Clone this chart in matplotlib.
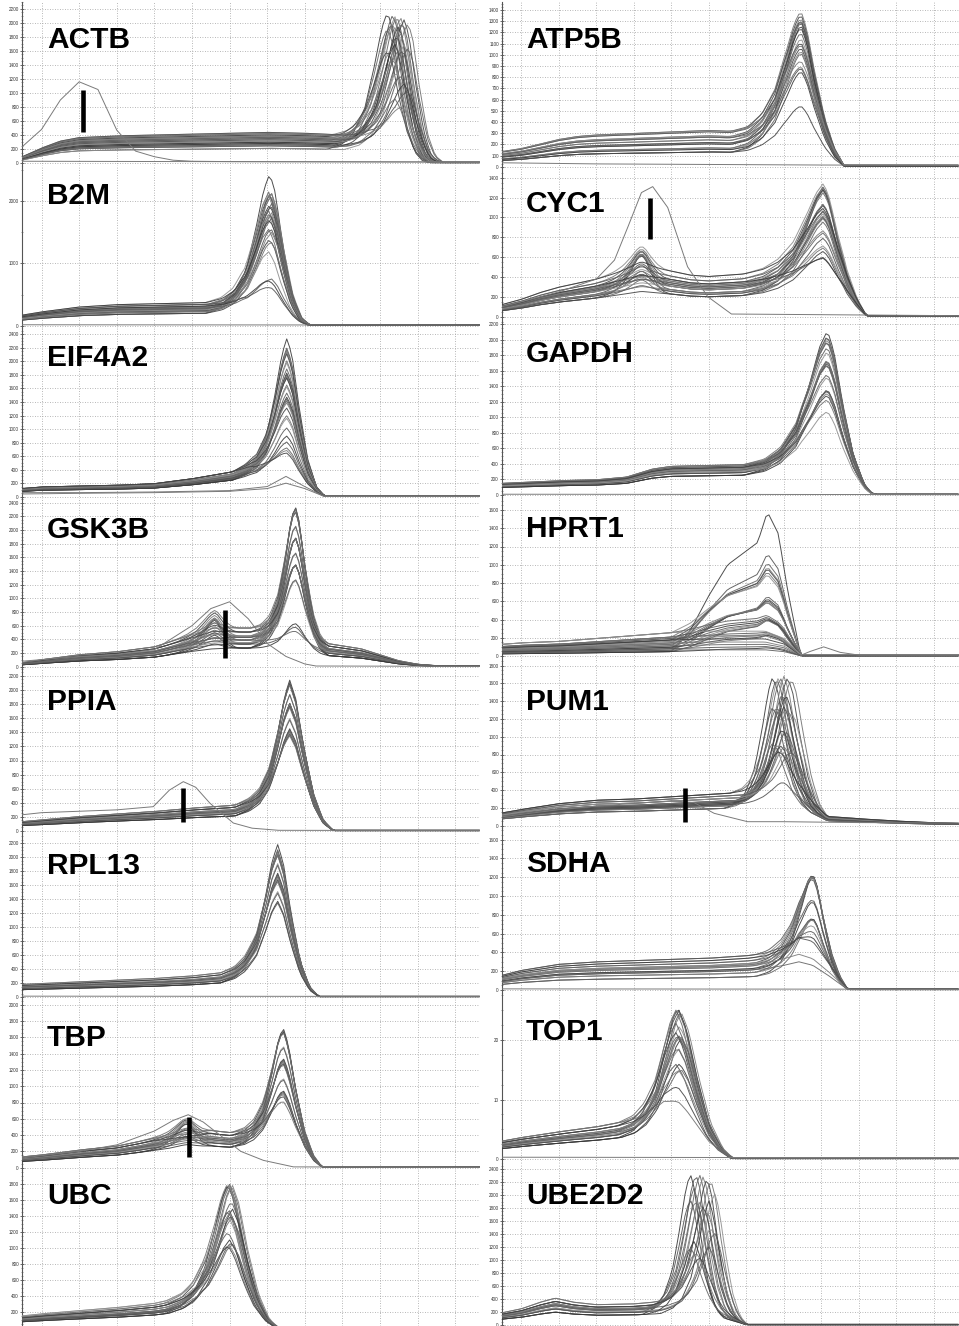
import numpy as np
import matplotlib
matplotlib.use("Agg")
import matplotlib.pyplot as plt
from matplotlib.ticker import MultipleLocator, AutoMinorLocator

plt.rcParams['font.family'] = ['Liberation Sans', 'DejaVu Sans']

# ---------------- data (x in grid units of the melt axis) ----------------
PEAK_DX = [-1.6, -1.2, -0.9, -0.6, -0.35, -0.15, 0, 0.15, 0.35, 0.6, 0.85, 1.1]
PEAK_Y = [0, 0.04, 0.12, 0.3, 0.6, 0.88, 1, 0.88, 0.55, 0.22, 0.05, 0]

ACTB_BU = [-0.52, 0.0, 0.5, 1.0, 2.0, 3.0, 4.0, 5.0, 6.0, 7.0, 8.0, 8.7, 9.3, 9.8, 10.3, 11.7]
ACTB_BV = [70, 170, 250, 290, 310, 320, 330, 340, 350, 340, 320, 320, 260, 130, 8, 8]
ACTB_AMPS = [2000, 1950, 1920, 1900, 1880, 1850, 1820, 1800, 1780, 1750, 1720, 1700, 1680, 1650,
             1600, 1550, 1500, 1450, 1400, 1350, 1300, 1200, 1100, 1050, 1000, 850, 750, 600]
ACTB_LEVELS = [0.6, 0.75, 0.85, 0.95, 1.05, 1.1, 1.15, 1.2, 0.9, 1.0, 0.8, 1.25, 0.7, 1.1]
ACTB_SHIFTS = [-0.25, -0.1, 0.0, 0.1, 0.2, 0.3, -0.05, 0.15, 0.05, -0.15]
ACTB_OUT_U = [-0.52, 0.0, 0.5, 1.0, 1.5, 2.0, 2.5, 3.0, 3.5, 4.0, 5.0, 11.7]
ACTB_OUT_V = [230, 480, 900, 1160, 1050, 470, 170, 90, 40, 25, 20, 15]
ACTB_MARK = (1.11, 447, 1043)

ATP5B_BU = [-0.52, 0, 0.5, 1, 1.5, 2, 3, 4, 5, 5.5, 6, 6.5, 7, 7.45, 8, 8.6, 11.7]
ATP5B_BV = [100, 120, 150, 180, 200, 210, 220, 230, 240, 235, 240, 280, 330, 320, 200, 10, 10]
ATP5B_AMPS = [1100, 1080, 1050, 1020, 1000, 980, 950, 920, 900, 880, 850, 820, 800, 780, 750,
              700, 650, 600, 550, 520, 370]
ATP5B_LEVELS = [0.55, 0.7, 0.85, 1.0, 1.15, 1.3, 0.65, 0.9, 1.1, 1.35]
ATP5B_NTC_U = [-0.52, 2, 5, 8, 11.7]
ATP5B_NTC_V = [35, 25, 20, 15, 12]

B2M_BU = [-0.52, 0, 1, 2, 3, 4, 4.6, 5.3, 5.8, 6.3, 6.8, 7.1, 11.7]
B2M_BV = [130, 170, 230, 260, 270, 280, 290, 300, 260, 150, 40, 8, 8]
B2M_AMPS = [2300, 2000, 1960, 1930, 1900, 1860, 1830, 1800, 1760, 1730, 1700, 1660, 1630, 1600,
            1550, 1500, 1450, 1400, 1350, 1300, 1250, 1200, 1000, 560, 500, 380]
B2M_LEVELS = [0.7, 0.8, 0.9, 1.0, 1.1, 1.2, 1.3, 0.85, 0.95, 1.05]
B2M_SHIFTS = [0, 0.03, -0.03, 0.05]

CYC1_BU = [-0.52, 0, 0.5, 1, 1.5, 2, 2.5, 3.2, 4, 4.5, 5, 5.5, 6, 6.5, 7, 7.5, 8.06, 8.6, 9.2, 11.7]
CYC1_BV = [90, 130, 180, 220, 250, 280, 320, 380, 340, 310, 300, 310, 320, 340, 370, 400, 420, 250, 8, 8]
CYC1_AMPS = [1010, 980, 880, 860, 830, 810, 780, 760, 730, 700, 680, 660, 630, 600, 580, 560, 530,
             480, 450, 430, 380, 360, 340, 180, 130]
CYC1_HUMP = [370, 330, 300, 280, 250, 230, 200, 180, 160, 140, 120, 100, 90, 80, 60, 50, 40, 30,
             20, 10, 0, 0, 0, 0, 0]
CYC1_LEVELS = [0.67, 0.8, 0.9, 1.0, 1.1, 1.2, 1.35, 0.75, 0.95, 1.05]
CYC1_OUT_U = [-0.52, 0, 1, 2, 2.48, 2.84, 3.2, 3.5, 3.9, 4.43, 4.97, 5.6, 11.7]
CYC1_OUT_V = [100, 150, 250, 380, 570, 906, 1250, 1310, 1100, 503, 201, 27, 10]
CYC1_MARK = (3.43, 779, 1192)

EIF4A2_BU = [-0.52, 0, 1, 2, 3, 4, 5, 5.5, 6, 6.5, 7, 7.5, 11.7]
EIF4A2_BV = [100, 120, 130, 140, 160, 220, 300, 350, 320, 220, 100, 8, 8]
EIF4A2_AMPS = [2180, 2020, 1970, 1920, 1870, 1820, 1770, 1720, 1670, 1620, 1570, 1540, 1510, 1460,
               1410, 1360, 1310, 1260, 1210, 1160, 1060, 1000, 940, 840, 730, 620, 510, 450, 390]
EIF4A2_LEVELS = [0.8, 0.9, 1.0, 1.1, 1.2, 0.95, 1.05, 0.85]
EIF4A2_LOW1_U = [-0.52, 1, 3, 5, 6, 6.5, 7, 7.5, 11.7]
EIF4A2_LOW1_V = [60, 60, 70, 90, 150, 300, 150, 8, 8]
EIF4A2_LOW2_U = [-0.52, 1, 3, 5, 6, 6.5, 7, 7.5, 11.7]
EIF4A2_LOW2_V = [40, 50, 60, 80, 120, 200, 120, 8, 8]

GAPDH_BU = [-0.52, 0, 1, 2, 2.8, 3.5, 4, 5, 6, 6.5, 7, 7.5, 8.16, 8.6, 9.3, 11.7]
GAPDH_BV = [130, 140, 160, 170, 200, 290, 320, 330, 340, 350, 380, 430, 420, 250, 8, 8]
GAPDH_AMPS = [1800, 1700, 1650, 1600, 1550, 1500, 1480, 1450, 1400, 1380, 1350, 1300, 1250, 1200,
              1150, 1100, 1050, 1000, 950, 900, 850, 750, 700]
GAPDH_LEVELS = [0.75, 0.85, 0.95, 1.0, 1.05, 1.15, 0.9, 1.1]
GAPDH_NTC_U = [-0.52, 11.7]
GAPDH_NTC_V = [10, 5]

GSK3B_BU = [-0.52, 0, 1, 2, 3, 3.5, 4, 4.5, 5, 5.5, 6, 6.5, 7, 7.5, 8, 8.5, 9, 9.5, 10, 10.5, 11.7]
GSK3B_BV = [40, 70, 120, 150, 200, 260, 320, 370, 390, 390, 370, 340, 280, 240, 210, 180, 120,
            60, 25, 10, 8]
GSK3B_AMPS = [2150, 2090, 2040, 1950, 1900, 1850, 1800, 1750, 1700, 1650, 1600, 1550, 1500, 1450,
              1400, 1350, 1300, 1250, 1200, 1150, 1100, 1050, 1000, 950, 420, 320, 210]
GSK3B_HUMP = [420, 380, 340, 320, 300, 280, 250, 230, 200, 180, 160, 140, 120, 100, 90, 80, 70,
              60, 50, 40, 30, 20, 10, 0, 0, 0, 0]
GSK3B_LEVELS = [0.7, 0.85, 1.0, 1.15, 1.3, 1.45, 0.9, 1.1]
GSK3B_OUT_U = [-0.52, 1, 2, 3, 4, 4.5, 5, 5.5, 6, 6.5, 7, 7.3, 11.7]
GSK3B_OUT_V = [80, 150, 180, 250, 600, 850, 950, 700, 340, 150, 40, 10, 5]
GSK3B_MARK = (4.89, 132, 830)

HPRT1_BU = [-0.52, 0, 1, 2, 3, 4, 5, 6, 6.5, 7, 7.45, 11.7]
HPRT1_BV = [80, 90, 100, 120, 140, 160, 170, 170, 170, 120, 8, 8]
HPRT1_PEAK_DX = [-2.56, -2.06, -1.56, -1.06, -0.56, -0.26, 0, 0.29, 0.54, 0.89]
HPRT1_PEAK_Y = [0, 0.15, 0.4, 0.62, 0.72, 0.78, 1.0, 0.85, 0.45, 0]
HPRT1_AMPS = [1530, 1040, 910, 830, 780, 710, 630, 590, 530, 480, 430, 390, 350, 310, 280, 250,
              230, 210, 180, 160, 130, 110, 80, 60, 40, 20, 10, 0, 0, 0, 0, 0]
HPRT1_LEVELS = [0.3, 0.5, 0.7, 0.9, 1.1, 1.3, 1.6, 0.4, 0.6, 0.8, 1.0, 1.2]
HPRT1_OUT_U = [7.45, 7.7, 8.06, 8.5, 9.0, 11.7]
HPRT1_OUT_V = [8, 50, 100, 40, 10, 10]

PPIA_BU = [-0.52, 0, 1, 2, 3, 4, 5, 5.5, 6, 6.6, 7, 7.4, 7.75, 11.7]
PPIA_BV = [110, 130, 170, 200, 230, 270, 300, 330, 330, 300, 200, 80, 8, 8]
PPIA_AMPS = [1930, 1870, 1820, 1790, 1760, 1710, 1680, 1650, 1600, 1570, 1540, 1490, 1440, 1390,
             1340, 1290, 1240, 1190, 1140, 1090, 1040, 990]
PPIA_LEVELS = [0.7, 0.8, 0.9, 1.0, 1.1, 1.2, 0.85, 0.95]
PPIA_OUT_U = [-0.52, 0, 1, 2, 2.97, 3.4, 3.77, 4.1, 4.48, 5.1, 5.6, 6.3, 11.7]
PPIA_OUT_V = [230, 260, 280, 300, 345, 580, 700, 620, 393, 113, 40, 10, 5]
PPIA_MARK = (3.77, 132, 614)

PUM1_BU = [-0.52, 0, 1, 2, 3, 4, 5, 5.5, 6, 6.5, 7, 7.5, 8.16, 9, 10, 11, 11.7]
PUM1_BV = [110, 140, 190, 220, 230, 250, 270, 280, 290, 320, 340, 280, 80, 60, 40, 25, 20]
PUM1_AMPS = [1450, 1400, 1370, 1340, 1310, 1280, 1230, 1200, 1160, 1110, 1080, 1050, 1000, 950,
             900, 850, 800, 750, 700, 650, 600, 550, 500, 450, 400, 200]
PUM1_LEVELS = [0.7, 0.8, 0.9, 1.0, 1.1, 1.2, 1.3, 0.85, 0.95]
PUM1_SHIFTS = [-0.2, -0.1, 0, 0.1, 0.2, 0.3, -0.05, 0.05, 0.15]
PUM1_OUT_U = [-0.52, 1, 2, 3, 4, 4.6, 5.14, 6.03, 7, 8, 9, 11.7]
PUM1_OUT_V = [100, 180, 220, 250, 280, 260, 139, 45, 45, 40, 35, 30]
PUM1_MARK = (4.37, 45, 427)

RPL13_BU = [-0.52, 0, 1, 2, 3, 4, 5, 5.5, 6, 6.3, 6.8, 7.35, 11.7]
RPL13_BV = [150, 160, 180, 200, 220, 250, 300, 330, 300, 250, 120, 8, 8]
RPL13_AMPS = [2000, 1900, 1850, 1800, 1750, 1720, 1690, 1640, 1590, 1540, 1490, 1440, 1390, 1340,
              1290, 1240, 1190, 1140]
RPL13_LEVELS = [0.7, 0.8, 0.9, 1.0, 1.1, 1.2, 0.85, 0.95]

SDHA_BU = [-0.52, 0, 1, 2, 3, 4, 5, 6, 6.5, 7, 7.4, 7.77, 8.2, 8.7, 11.7]
SDHA_BV = [120, 160, 210, 230, 240, 250, 260, 280, 300, 350, 400, 350, 200, 8, 8]
SDHA_AMPS = [1050, 1000, 950, 920, 890, 840, 790, 740, 690, 640, 590, 540, 490, 440, 340, 240,
             140, 60, 0, 0]
SDHA_LEVELS = [0.5, 0.65, 0.8, 0.9, 1.0, 1.1, 1.2, 1.3, 0.75, 0.95]

TBP_BU = [-0.52, 0, 1, 2, 3, 3.9, 4.5, 5, 5.5, 6, 6.42, 7, 7.45, 11.7]
TBP_BV = [110, 130, 180, 220, 300, 350, 380, 360, 370, 380, 350, 150, 8, 8]
TBP_AMPS = [1480, 1420, 1370, 1340, 1310, 1260, 1210, 1160, 1110, 1060, 1010, 960, 910, 860, 810,
            760, 710, 660, 610, 560, 500, 400]
TBP_HUMP = [300, 270, 250, 230, 210, 190, 170, 150, 130, 110, 100, 90, 80, 70, 60, 50, 40, 30,
            20, 10, 0, 0]
TBP_LEVELS = [0.7, 0.8, 0.9, 1.0, 1.1, 1.2, 0.85, 0.95]
TBP_OUT_U = [-0.52, 1, 2, 3, 3.5, 3.9, 4.3, 4.8, 5.3, 5.9, 6.7, 11.7]
TBP_OUT_V = [120, 200, 280, 450, 580, 650, 560, 380, 200, 90, 10, 5]
TBP_MARK = (3.92, 131, 622)

TOP1_BU = [-0.52, 0, 1, 2, 3, 3.5, 3.8, 4.17, 4.6, 5.0, 5.6, 11.7]
TOP1_BV = [2.5, 3.0, 3.8, 4.5, 5.5, 6.5, 7, 6, 4, 2, 0.1, 0.1]
TOP1_AMPS = [21.3, 20.0, 19.5, 19, 18.5, 18, 17.5, 17, 16.5, 16, 15.5, 15, 14.5, 14, 13.5, 13,
             12, 11, 10, 9, 5.5, 2.5]
TOP1_LEVELS = [0.7, 0.8, 0.9, 1.0, 1.1, 1.2, 0.85, 0.95]
TOP1_SHIFTS = [0, 0.05, -0.05, 0.1, 0.03]

UBC_BU = [-0.52, 0, 1, 2, 3, 3.77, 4.3, 5, 5.5, 6.25, 11.7]
UBC_BV = [120, 140, 170, 200, 240, 300, 350, 300, 150, 8, 8]
UBC_AMPS = [1580, 1550, 1520, 1500, 1470, 1440, 1390, 1340, 1290, 1240, 1190, 1140, 1090, 1040,
            990, 940, 890, 840, 790, 740, 690]
UBC_LEVELS = [0.7, 0.8, 0.9, 1.0, 1.1, 1.2, 1.3, 0.85]
UBC_SHIFTS = [-0.05, 0, 0.05, 0.08, -0.02]

UBE2D2_BU = [-0.52, 0, 0.5, 0.9, 1.4, 2, 3, 3.5, 4, 4.5, 5, 5.5, 6.0, 11.7]
UBE2D2_BV = [150, 200, 280, 330, 280, 250, 260, 280, 320, 350, 300, 150, 8, 8]
UBE2D2_AMPS = [2130, 2080, 2030, 1980, 1930, 1880, 1830, 1780, 1730, 1680, 1630, 1580, 1480, 1380,
               1280, 1180, 1080, 980, 880, 780, 680]
UBE2D2_LEVELS = [0.6, 0.75, 0.9, 1.0, 1.1, 1.25, 0.8, 0.95]
UBE2D2_SHIFTS = [-0.35, -0.2, -0.1, 0, 0.1, 0.2, 0.3, -0.25, 0.15]

# ---------------- panel definitions ----------------
P = {
    'ACTB': dict(bu=ACTB_BU, bv=ACTB_BV, amps=ACTB_AMPS, levels=ACTB_LEVELS, shifts=ACTB_SHIFTS,
                 c=9.45, ls=1.0, rs=0.85, extras=[(ACTB_OUT_U, ACTB_OUT_V), ([-0.52, 11.7], [25, 12])],
                 mark=ACTB_MARK),
    'ATP5B': dict(bu=ATP5B_BU, bv=ATP5B_BV, amps=ATP5B_AMPS, levels=ATP5B_LEVELS, c=7.45, ls=1.15, rs=1.05,
                  extras=[(ATP5B_NTC_U, ATP5B_NTC_V)]),
    'B2M': dict(bu=B2M_BU, bv=B2M_BV, amps=B2M_AMPS, levels=B2M_LEVELS, shifts=B2M_SHIFTS,
                c=6.07, ls=1.05, rs=0.95, extras=[([-0.52, 11.7], [15, 10])]),
    'CYC1': dict(bu=CYC1_BU, bv=CYC1_BV, amps=CYC1_AMPS, levels=CYC1_LEVELS, c=8.06, ls=1.35, rs=1.05,
                 hump=CYC1_HUMP, hc=3.2, hls=0.8, hrs=0.7, extras=[(CYC1_OUT_U, CYC1_OUT_V)], mark=CYC1_MARK),
    'EIF4A2': dict(bu=EIF4A2_BU, bv=EIF4A2_BV, amps=EIF4A2_AMPS, levels=EIF4A2_LEVELS, c=6.53, ls=0.9,
                   rs=0.92, extras=[(EIF4A2_LOW1_U, EIF4A2_LOW1_V), (EIF4A2_LOW2_U, EIF4A2_LOW2_V)]),
    'GAPDH': dict(bu=GAPDH_BU, bv=GAPDH_BV, amps=GAPDH_AMPS, levels=GAPDH_LEVELS, c=8.16, ls=1.4, rs=1.15,
                  extras=[(GAPDH_NTC_U, GAPDH_NTC_V)]),
    'GSK3B': dict(bu=GSK3B_BU, bv=GSK3B_BV, amps=GSK3B_AMPS, levels=GSK3B_LEVELS, c=6.74, ls=0.75, rs=0.8,
                  hump=GSK3B_HUMP, hc=4.6, hls=0.8, hrs=0.6, extras=[(GSK3B_OUT_U, GSK3B_OUT_V)],
                  mark=GSK3B_MARK),
    'HPRT1': dict(bu=HPRT1_BU, bv=HPRT1_BV, amps=HPRT1_AMPS, levels=HPRT1_LEVELS, c=6.56, ls=1.0, rs=1.0,
                  pdx=HPRT1_PEAK_DX, py=HPRT1_PEAK_Y, extras=[(HPRT1_OUT_U, HPRT1_OUT_V)]),
    'PPIA': dict(bu=PPIA_BU, bv=PPIA_BV, amps=PPIA_AMPS, levels=PPIA_LEVELS, c=6.6, ls=0.9, rs=1.05,
                 extras=[(PPIA_OUT_U, PPIA_OUT_V)], mark=PPIA_MARK),
    'PUM1': dict(bu=PUM1_BU, bv=PUM1_BV, amps=PUM1_AMPS, levels=PUM1_LEVELS, shifts=PUM1_SHIFTS,
                 c=6.9, ls=0.8, rs=0.9, extras=[(PUM1_OUT_U, PUM1_OUT_V)], mark=PUM1_MARK),
    'RPL13': dict(bu=RPL13_BU, bv=RPL13_BV, amps=RPL13_AMPS, levels=RPL13_LEVELS, c=6.28, ls=0.95, rs=1.0,
                  extras=[([-0.52, 11.7], [12, 8])]),
    'SDHA': dict(bu=SDHA_BU, bv=SDHA_BV, amps=SDHA_AMPS, levels=SDHA_LEVELS, c=7.77, ls=0.95, rs=0.85,
                 extras=[([-0.52, 11.7], [12, 8])]),
    'TBP': dict(bu=TBP_BU, bv=TBP_BV, amps=TBP_AMPS, levels=TBP_LEVELS, c=6.42, ls=0.85, rs=0.95,
                hump=TBP_HUMP, hc=3.85, hls=0.8, hrs=0.7, extras=[(TBP_OUT_U, TBP_OUT_V)], mark=TBP_MARK),
    'TOP1': dict(bu=TOP1_BU, bv=TOP1_BV, amps=TOP1_AMPS, levels=TOP1_LEVELS, shifts=TOP1_SHIFTS,
                 c=4.17, ls=1.0, rs=1.3, extras=[([-0.52, 11.7], [0.3, 0.2])]),
    'UBC': dict(bu=UBC_BU, bv=UBC_BV, amps=UBC_AMPS, levels=UBC_LEVELS, shifts=UBC_SHIFTS,
                c=5.0, ls=1.05, rs=1.15, extras=[]),
    'UBE2D2': dict(bu=UBE2D2_BU, bv=UBE2D2_BV, amps=UBE2D2_AMPS, levels=UBE2D2_LEVELS, shifts=UBE2D2_SHIFTS,
                   c=4.85, ls=0.8, rs=0.8, extras=[]),
}

# layout: name, column, top px, bottom px, zero px, px per unit, tick step, label cap top px
LAYOUT = [
    ('ACTB', 0, 2, 166, 163.0, 0.0700, 200, 26),
    ('B2M', 0, 166, 328, 325.7, 0.0623, 1000, 183),
    ('EIF4A2', 0, 328, 499, 496.7, 0.06765, 200, 345),
    ('GSK3B', 0, 499, 668, 666.7, 0.06835, 200, 517),
    ('PPIA', 0, 668, 833, 831.0, 0.0705, 200, 688),
    ('RPL13', 0, 833, 999, 997.0, 0.0700, 200, 853),
    ('TBP', 0, 999, 1170, 1167.7, 0.0815, 200, 1025),
    ('UBC', 0, 1170, 1326, 1328.5, 0.0805, 200, 1183),
    ('ATP5B', 1, 2, 168, 166.7, 0.1119, 100, 26),
    ('CYC1', 1, 168, 322, 316.7, 0.0993, 200, 190),
    ('GAPDH', 1, 322, 497, 495.0, 0.07775, 200, 340),
    ('HPRT1', 1, 497, 663, 656.0, 0.09125, 200, 516),
    ('PUM1', 1, 663, 828, 825.7, 0.0890, 200, 688),
    ('SDHA', 1, 828, 993, 990.0, 0.0940, 200, 850),
    ('TOP1', 1, 993, 1163, 1159.0, 5.95, 10, 1018),
    ('UBE2D2', 1, 1163, 1326, 1325.0, 0.0650, 200, 1183),
]
COL_X = [(22, 480), (502, 959)]
LABEL_X = [47, 526]

W, H = 959, 1326
fig = plt.figure(figsize=(W / 100, H / 100), dpi=100)

U = np.arange(-0.52, 11.70, 0.08)
GREYS = ['#3a3a3a', '#555555', '#666666', '#7d7d7d', '#454545', '#737373', '#909090', '#5e5e5e']


def shape(u, c, ls, rs, dx=None, yv=None):
    dx = np.array(PEAK_DX if dx is None else dx, dtype=float)
    yv = PEAK_Y if yv is None else yv
    xs = c + np.where(dx < 0, dx * ls, dx * rs)
    return np.interp(u, xs, yv, left=0, right=0)


for name, col, top, bot, zero, ppu, step, cap in LAYOUT:
    x0, x1 = COL_X[col]
    ax = fig.add_axes([x0 / W, 1 - bot / H, (x1 - x0) / W, (bot - top) / H])
    ax.set_xlim(-0.52, 11.66 if col == 0 else 11.67)
    ax.set_ylim((zero - bot) / ppu, (zero - top) / ppu)
    d = P[name]
    shifts = d.get('shifts', [0])
    for i, amp in enumerate(d['amps']):
        lev = d['levels'][i % len(d['levels'])]
        s = shifts[i % len(shifts)]
        y = lev * np.interp(U, d['bu'], d['bv'])
        y = y + amp * shape(U, d['c'] + s, d['ls'], d['rs'], d.get('pdx'), d.get('py'))
        if 'hump' in d:
            y = y + d['hump'][i] * shape(U, d['hc'], d['hls'], d['hrs'])
        ax.plot(U, y, color=GREYS[i % len(GREYS)], lw=0.7, alpha=0.9, zorder=3)
    for xu, yv in d['extras']:
        ax.plot(xu, yv, color='#7a7a7a', lw=0.7, zorder=3)
    if 'mark' in d:
        mu, m0, m1 = d['mark']
        ax.plot([mu, mu], [m0, m1], color='black', lw=3.3, solid_capstyle='butt', zorder=5)

    ax.set_xticks(np.arange(0, 12))
    ax.yaxis.set_major_locator(MultipleLocator(step))
    ax.yaxis.set_minor_locator(AutoMinorLocator(4 if step != 1000 else 2))
    ax.grid(True, which='major', color='#a0a0a0', lw=0.6, ls=(0, (1, 2)))
    ax.set_axisbelow(True)
    ax.tick_params(axis='x', length=0, labelbottom=False)
    ax.tick_params(axis='y', which='major', length=2.5, width=0.5, direction='inout',
                   labelsize=3.3, pad=1, colors='#333333')
    ax.tick_params(axis='y', which='minor', length=1.5, width=0.4, direction='inout', colors='#555555')
    for sp in ['top', 'right', 'bottom']:
        ax.spines[sp].set_visible(False)
    ax.spines['left'].set_color('#555555')
    ax.spines['left'].set_linewidth(0.8)
    ax.patch.set_alpha(0)

    fig.text(LABEL_X[col] / W, 1 - (cap - 0.5) / H, name, fontsize=21.5, fontweight='bold',
             color='black', ha='left', va='top')

fig.savefig('out.png', dpi=100)
